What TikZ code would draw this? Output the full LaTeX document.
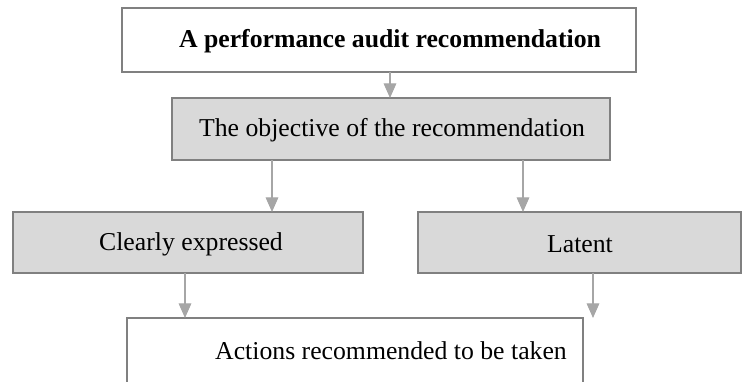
\documentclass[tikz,border=0pt]{standalone}
\usepackage{fontspec}
\setmainfont{Liberation Serif}
\usetikzlibrary{arrows.meta}
\definecolor{boxline}{HTML}{808080}
\definecolor{boxfill}{HTML}{D9D9D9}
\definecolor{arrowgray}{HTML}{A6A6A6}
\tikzset{
  plainbox/.style={draw=boxline, line width=1.6pt, fill=white},
  greybox/.style={draw=boxline, line width=0.9pt, fill=boxfill},
  boxtext/.style={font=\fontsize{19.3}{22}\selectfont, inner sep=0pt},
  arr/.style={draw=arrowgray, line width=0.9pt,
    -{Triangle[width=9.5pt,length=11pt,fill=arrowgray]}}
}
\begin{document}
\begin{tikzpicture}[x=0.75pt,y=-0.75pt]
\useasboundingbox (0,0) rectangle (754,382);
\clip (0,0) rectangle (754,382);
% boxes
\draw[plainbox] (122,8) rectangle (636,72);
\draw[greybox] (172,98) rectangle (610,160);
\draw[greybox] (13,212) rectangle (363,273);
\draw[greybox] (418,212) rectangle (741,273);
\draw[plainbox] (127,318) rectangle (583,400);
% named anchors of the boxes
\coordinate (topS) at (390,72);
\coordinate (objN) at (390,98);
\coordinate (objSL) at (272,160);
\coordinate (objSR) at (523,160);
\coordinate (clN) at (272,212);
\coordinate (laN) at (523,212);
\coordinate (clS) at (185,273);
\coordinate (laS) at (593,273);
\coordinate (actL) at (185,318);
\coordinate (actR) at (593,318);
% texts
\node[boxtext, font=\bfseries\fontsize{19.3}{22}\selectfont] (top) at (390,41) {A performance audit recommendation};
\node[boxtext] (obj) at (392,130) {The objective of the recommendation};
\node[boxtext] (cl) at (191,244) {Clearly expressed};
\node[boxtext] (la) at (580,244) {Latent};
\node[boxtext] (act) at (391,351) {Actions recommended to be taken};
% connectors
\draw[arr] (topS) -- (objN);
\draw[arr] (objSL) -- (clN);
\draw[arr] (objSR) -- (laN);
\draw[arr] (clS) -- (actL);
\draw[arr] (laS) -- (actR);
\end{tikzpicture}
\end{document}
